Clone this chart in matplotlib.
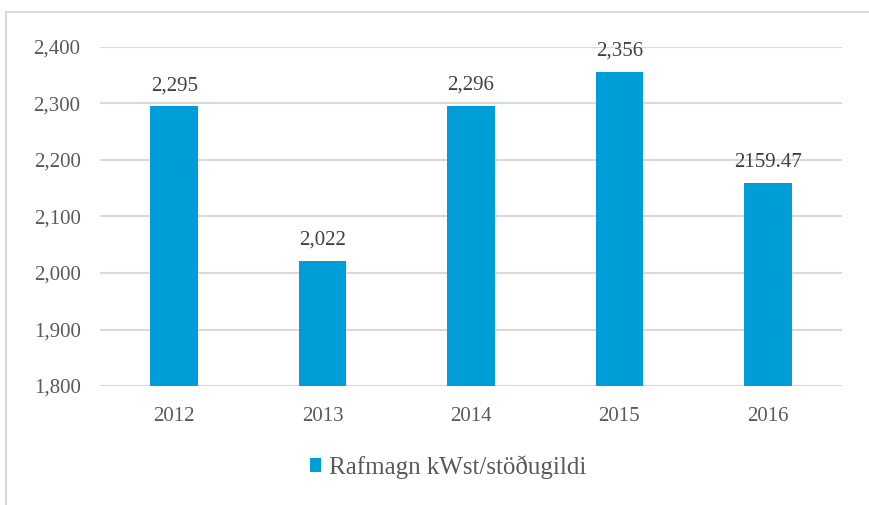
import matplotlib.pyplot as plt
from matplotlib.patches import Rectangle

years = ['2012', '2013', '2014', '2015', '2016']
values = [2295, 2022, 2296, 2356, 2159.47]
value_labels = ['2,295', '2,022', '2,296', '2,356', '2159.47']
series_name = 'Rafmagn kWst/stöðugildi'
yticks = [1800, 1900, 2000, 2100, 2200, 2300, 2400]

plt.rcParams['font.family'] = ['Liberation Serif', 'DejaVu Serif']
text_color = '#595959'
bar_color = '#009ED9'

fig = plt.figure(figsize=(8.69, 5.05), dpi=100)
# chart frame
fig.patches.append(Rectangle((6 / 869, -0.1), 1.2, 1 - 12 / 505 + 0.1,
                             transform=fig.transFigure, fill=False,
                             edgecolor='#D9D9D9', linewidth=1.5))

ax = fig.add_axes([100 / 869, 1 - 386 / 505, 742 / 869, 339 / 505])
bars = ax.bar(years, values, width=0.32, color=bar_color, zorder=3)
ax.set_ylim(1800, 2400)
ax.set_xlim(-0.5, 4.5)
ax.set_yticks(yticks)
ax.set_yticklabels([f'{t:,}' for t in yticks])
ax.grid(axis='y', color='#D9D9D9', linewidth=1.5, zorder=0)
for s in ax.spines.values():
    s.set_visible(False)
ax.tick_params(length=0, labelsize=15, colors=text_color, pad=14)
ax.tick_params(axis='x', pad=15)

for b, lab in zip(bars, value_labels):
    ax.annotate(lab, (b.get_x() + b.get_width() / 2, b.get_height()),
                xytext=(0, 8), textcoords='offset points', ha='center',
                va='bottom', fontsize=15, color='#404040')

ax.legend([bars], [series_name], loc='center', bbox_to_anchor=(448 / 869, 1 - 467 / 505),
          bbox_transform=fig.transFigure, frameon=False, fontsize=18,
          handlelength=0.45, handleheight=0.45, handletextpad=0.3, labelcolor=text_color)

fig.savefig('out.png', dpi=100)
